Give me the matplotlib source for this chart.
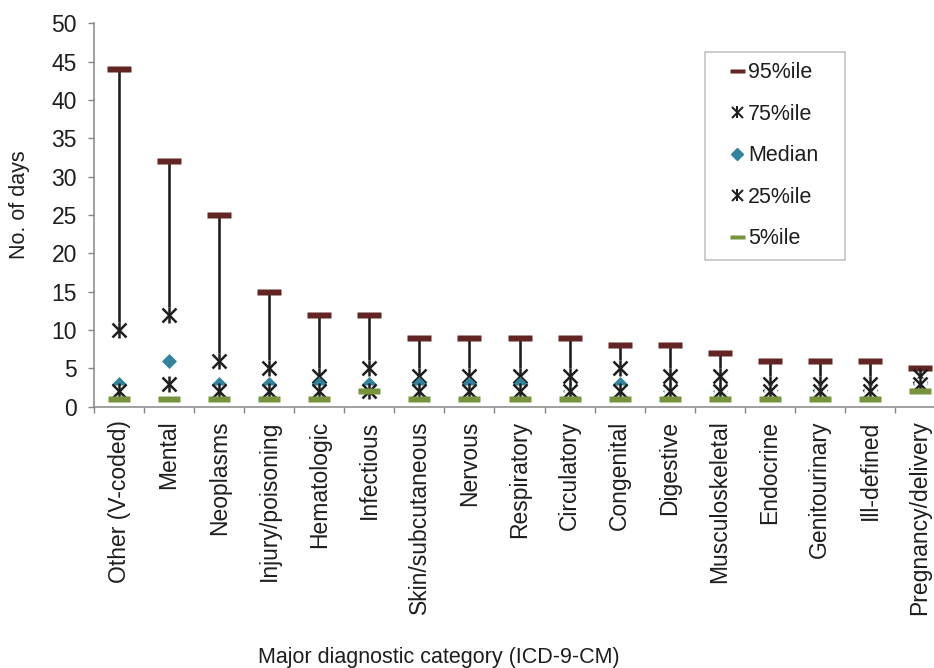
import matplotlib
matplotlib.use("Agg")
import matplotlib.pyplot as plt
from matplotlib.lines import Line2D
from matplotlib.legend_handler import HandlerTuple
import numpy as np

plt.rcParams['font.family'] = ['Liberation Sans', 'DejaVu Sans']

categories = ["Other (V-coded)", "Mental", "Neoplasms", "Injury/poisoning", "Hematologic",
              "Infectious", "Skin/subcutaneous", "Nervous", "Respiratory", "Circulatory",
              "Congenital", "Digestive", "Musculoskeletal", "Endocrine", "Genitourinary",
              "Ill-defined", "Pregnancy/delivery"]
p95 = [44, 32, 25, 15, 12, 12, 9, 9, 9, 9, 8, 8, 7, 6, 6, 6, 5]
p75 = [10, 12, 6, 5, 4, 5, 4, 4, 4, 4, 5, 4, 4, 3, 3, 3, 4]
median = [3, 6, 3, 3, 3, 3, 3, 3, 3, 2, 3, 2, 2, 2, 2, 2, 3]
p25 = [2, 3, 2, 2, 2, 2, 2, 2, 2, 2, 2, 2, 2, 2, 2, 2, 3]
p5 = [1, 1, 1, 1, 1, 2, 1, 1, 1, 1, 1, 1, 1, 1, 1, 1, 2]
yticks = [0, 5, 10, 15, 20, 25, 30, 35, 40, 45, 50]

RED = "#632523"
TEAL = "#31849B"
GREEN = "#77933C"
INK = "#1E1E1E"
GRAY = "#868686"

W, H = 934, 668
fig = plt.figure(figsize=(W / 100, H / 100), dpi=100)
ax = fig.add_axes([94 / W, (H - 406.5) / H, 851 / W, 383.2 / H])

x = np.arange(len(categories))
bar = [(-1, -0.28), (1, -0.28), (1, 0.28), (-1, 0.28), (-1, -0.28)]

def px(v):
    return v * 72 / 100

ax.vlines(x, p75, p95, color=INK, lw=px(2.6), zorder=2)
ax.plot(x, p75, ls="none", marker="s", ms=px(16), mfc="white", mec="none", zorder=3)
ax.plot(x, p95, ls="none", marker=bar, ms=px(24), mfc=RED, mec="none", zorder=4)
ax.plot(x, p75, ls="none", marker="x", ms=px(14), mew=px(2.5), color=INK, zorder=5)
ax.plot(x, p75, ls="none", marker="|", ms=px(16), mew=px(2.5), color=INK, zorder=5)
ax.plot(x, median, ls="none", marker="D", ms=px(9.2), mfc=TEAL, mec=TEAL, mew=0.5, zorder=6)
ax.plot(x, p25, ls="none", marker="s", ms=px(13), mfc="white", mec="none", zorder=7)
ax.plot(x, p25, ls="none", marker="x", ms=px(14), mew=px(2.5), color=INK, zorder=8)
ax.plot(x, p25, ls="none", marker="|", ms=px(16), mew=px(2.5), color=INK, zorder=8)
ax.plot(x, p5, ls="none", marker=bar, ms=px(22), mfc=GREEN, mec="none", zorder=9)

ax.set_xlim(-0.5, len(categories) - 0.5)
ax.set_ylim(0, 50)
ax.set_yticks(yticks)
ax.set_yticklabels([str(v) for v in yticks])
ax.set_xticks(x)
ax.set_xticklabels(categories, rotation=90)
ax.set_xticks(np.arange(len(categories) + 1) - 0.5, minor=True)

for s in ("top", "right"):
    ax.spines[s].set_visible(False)
for s in ("left", "bottom"):
    ax.spines[s].set_color(GRAY)
    ax.spines[s].set_linewidth(1.1)

ax.tick_params(axis="y", direction="out", length=px(6), width=1.0, color=GRAY,
               labelsize=16.5, labelcolor=INK, pad=px(11))
ax.tick_params(axis="x", which="major", length=0, labelsize=16.5, labelcolor=INK, pad=px(14))
ax.tick_params(axis="x", which="minor", direction="out", length=px(6), width=1.0, color=GRAY)

ax.set_ylabel("No. of days", fontsize=15.5, color=INK)
ax.yaxis.label.set(va="center", ha="center", rotation_mode="anchor")
ax.yaxis.set_label_coords(20 / W, 1 - 205 / H, transform=fig.transFigure)
ax.set_xlabel("Major diagnostic category (ICD-9-CM)", fontsize=15.5, color=INK)
ax.xaxis.label.set(va="center", ha="center")
ax.xaxis.set_label_coords(439 / W, 1 - 657 / H, transform=fig.transFigure)

legbar = [(-1, -0.27), (1, -0.27), (1, 0.27), (-1, 0.27), (-1, -0.27)]
h95 = Line2D([], [], ls="none", marker=legbar, ms=px(15), mfc=RED, mec="none")
h75 = (Line2D([], [], ls="none", marker="x", ms=px(11), mew=px(2), color=INK),
       Line2D([], [], ls="none", marker="|", ms=px(12), mew=px(2), color=INK))
hmed = Line2D([], [], ls="none", marker="D", ms=px(8.5), mfc=TEAL, mec=TEAL)
h25 = (Line2D([], [], ls="none", marker="x", ms=px(11), mew=px(2), color=INK),
       Line2D([], [], ls="none", marker="|", ms=px(12), mew=px(2), color=INK))
h5 = Line2D([], [], ls="none", marker=legbar, ms=px(15), mfc=GREEN, mec="none")

leg = ax.legend([h95, h75, hmed, h25, h5], ["95%ile", "75%ile", "Median", "25%ile", "5%ile"],
                handler_map={tuple: HandlerTuple(ndivide=1, pad=0)},
                loc="upper left", bbox_to_anchor=(705 / W, (H - 258) / H, 140 / W, 206.5 / H),
                bbox_transform=fig.transFigure, mode="expand", borderaxespad=0,
                fontsize=15.5, numpoints=1, handlelength=1.95, handletextpad=-0.45,
                borderpad=0.5, labelspacing=0.95, fancybox=False, framealpha=1,
                edgecolor="#BFBFBF", labelcolor=INK)
leg.get_frame().set_linewidth(1.1)

fig.savefig("out.png", dpi=100)
